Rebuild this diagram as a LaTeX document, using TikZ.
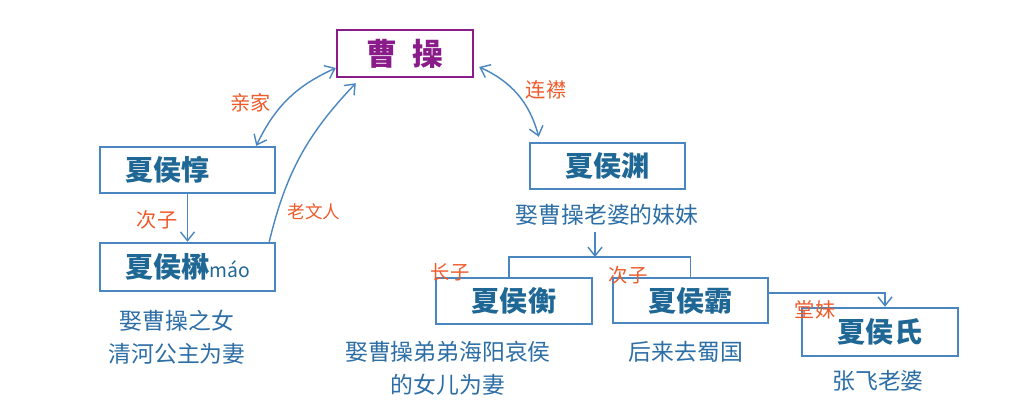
\documentclass[tikz,border=0pt]{standalone}
\usepackage{fontspec}
\setmainfont{Noto Sans CJK SC}
\usepackage{tikz}
\usetikzlibrary{arrows.meta,positioning,calc}

\definecolor{boxblue}{HTML}{4A86C0}
\definecolor{nameblue}{HTML}{1F6795}
\definecolor{noteblue}{HTML}{2C6EA5}
\definecolor{relred}{HTML}{EE5A2A}
\definecolor{caopurple}{HTML}{8A1C8A}

\begin{document}
\begin{tikzpicture}[x=0.02cm, y=-0.02cm,
  person/.style={draw=boxblue, line width=1.4pt, text=nameblue, inner sep=0pt,
    font=\fontsize{16}{18}\selectfont\bfseries},
  note/.style={text=noteblue, align=center, font=\fontsize{13}{19}\selectfont},
  rel/.style={text=relred, font=\fontsize{11.5}{13}\selectfont},
  link/.style={draw=boxblue, line width=0.8pt},
  oneway/.style={arrows={-Straight Barb[length=5pt,width=8pt]}},
  twoway/.style={arrows={Straight Barb[length=5pt,width=8pt]-Straight Barb[length=5pt,width=8pt]}}
]
  \useasboundingbox (0,0) rectangle (1010,400);

  % Cao Cao on top
  \node[person, draw=caopurple, text=caopurple, minimum width=2.72cm, minimum height=0.94cm,
    font=\fontsize{17.5}{19}\selectfont\bfseries]
    (caocao) at (405,53.5) {曹\hspace{0.5em}操};

  % left branch
  \node[person, minimum width=3.5cm, minimum height=0.92cm] (dun) at (187.5,170) {夏侯惇\kern0.8cm};
  \node[person, minimum width=3.5cm, minimum height=0.96cm] (mao) at (187.5,267)
    {夏侯楙{\fontsize{11}{12}\selectfont\mdseries máo}};
  \node[note] (maonote) at (177,337) {娶曹操之女\\清河公主为妻};

  % right branch
  \node[person, minimum width=3.1cm, minimum height=0.92cm] (yuan) at (607.5,166) {夏侯渊};
  \node[note] (yuannote) at (607,215) {娶曹操老婆的妹妹};
  \coordinate (fork) at (595,257);

  \node[person, minimum width=3.12cm, minimum height=0.92cm] (heng) at (514,301) {夏侯衡};
  \node[person, minimum width=3.1cm, minimum height=0.9cm] (ba) at (690.5,300.5) {夏侯霸};
  \node[person, minimum width=3.12cm, minimum height=0.96cm] (shi) at (880,332) {夏侯氏};

  \node[note] (hengnote) at (448,368) {娶曹操弟弟海阳哀侯\\的女儿为妻};
  \node[note] (banote) at (686,352) {后来去蜀国};
  \node[note] (shinote) at (878,381) {张飞老婆};

  % connectors
  \draw[link, twoway] ([xshift=-0.4cm]dun.north east) to[bend left=20]
    node[rel, pos=0.45, left=4pt] (qinjia) {亲家} ([yshift=-0.29cm]caocao.west);
  \draw[link, oneway] ([xshift=-0.14cm]mao.north east) to[bend left=15]
    ([xshift=0.4cm,yshift=-0.1cm]caocao.south west);
  \node[rel, font=\fontsize{10}{12}\selectfont] (laowenren) at (314,212) {老文人};
  \draw[link, twoway] ([xshift=0.1cm,yshift=-0.27cm]caocao.east) to[bend left=25]
    ([xshift=0.2cm,yshift=0.1cm]yuan.north west);
  \node[rel] (lianjin) at (546,90) {连襟};

  \draw[link, oneway] (dun.south) -- (mao.north);
  \node[rel] (cizi) at (157,220) {次子};

  \draw[link, oneway] (yuannote.south -| fork) -- (fork);
  \draw[link] ([xshift=-0.1cm]heng.north) |- (fork) -| (ba.north);
  \node[rel, font=\fontsize{11}{12}\selectfont] (zhangzi) at (450,272) {长子};
  \node[rel, font=\fontsize{11}{12}\selectfont] (cizi2) at (628,275) {次子};

  \draw[link, oneway] ([yshift=0.15cm]ba.east) -| ([xshift=0.1cm]shi.north);
  \node[rel] (tangmei) at (815,310) {堂妹};
\end{tikzpicture}
\end{document}
